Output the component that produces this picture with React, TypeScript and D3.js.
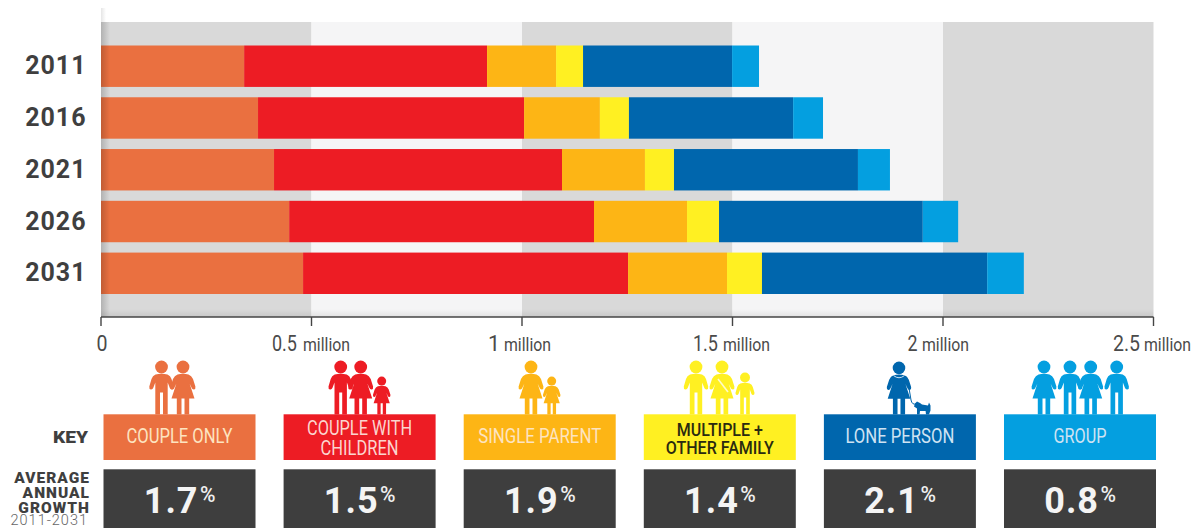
import React from "react";
import * as d3 from "d3";

const years = ["2011", "2016", "2021", "2026", "2031"];
const householdTypes = ["couple", "coupleKids", "single", "multiple", "lone", "group"];
const coupleOnly = [0.34, 0.373, 0.411, 0.447, 0.48];
const coupleWithChildren = [0.577, 0.632, 0.684, 0.724, 0.772];
const singleParent = [0.164, 0.18, 0.197, 0.221, 0.235];
const multipleOther = [0.064, 0.069, 0.069, 0.076, 0.083];
const lonePerson = [0.354, 0.39, 0.437, 0.484, 0.535];
const groupHouseholds = [0.064, 0.071, 0.076, 0.084, 0.087];
const seriesValues = [coupleOnly, coupleWithChildren, singleParent, multipleOther, lonePerson, groupHouseholds];
const seriesColors = ["#ea7040", "#ed1c24", "#fdb515", "#fff022", "#0066ad", "#049fe0"];
const axisTicks = [0, 0.5, 1, 1.5, 2, 2.5];
const keyLines = [["COUPLE ONLY"], ["COUPLE WITH", "CHILDREN"], ["SINGLE PARENT"], ["MULTIPLE +", "OTHER FAMILY"], ["LONE PERSON"], ["GROUP"]];
const growthRates = ["1.7", "1.5", "1.9", "1.4", "2.1", "0.8"];

// Horizontal metrics for the condensed-looking labels
const keyLineWidths = [[106], [105, 78], [123], [86, 108], [109], [53]];
const tickNumberLeft = [96.5, 272, 488, 693, 907.5, 1113];
const tickNumberWidth = [11, 25, 12, 25, 10, 27];
const tickUnitLeft = [0, 303, 504, 723, 922, 1144];

const x = d3.scaleLinear().domain([0, 2.5]).range([101, 1153.5]);
const y = d3.scaleBand().domain(years).range([45.5, 294]).paddingInner(0.2).paddingOuter(0);
const keyX = d3.scaleBand().domain(householdTypes).range([103.5, 1156]).paddingInner(0.156).paddingOuter(0);

const stack = d3.stack<number>()
  .keys(householdTypes.map((_, i) => String(i)))
  .value((yearIndex, key) => seriesValues[+key][yearIndex]);
const stacked = stack(years.map((_, i) => i));

const GROUND = 414.5;

// Figure glyphs share a unit box: feet at y=0, head towards negative y, centred on x=0.
function Man({ cx, h, fill }: { cx: number; h: number; fill: string }) {
  const s = h / 54;
  return (
    <g transform={`translate(${cx},${GROUND}) scale(${s})`} fill={fill}>
      <circle cx={0} cy={-47.5} r={6.4} />
      <path d="M-6,-40 Q0,-41.5 6,-40 Q9,-39 10,-35.5 L12.2,-28 Q12.6,-25.4 10.6,-25 Q8.9,-24.8 8.2,-26.8 L6.2,-32 L6.2,0 L1.5,0 L1.5,-22 L-1.5,-22 L-1.5,0 L-6.2,0 L-6.2,-32 L-8.2,-26.8 Q-8.9,-24.8 -10.6,-25 Q-12.6,-25.4 -12.2,-28 L-10,-35.5 Q-9,-39 -6,-40 Z" />
    </g>
  );
}

function Woman({ cx, h, fill }: { cx: number; h: number; fill: string }) {
  const s = h / 54;
  return (
    <g transform={`translate(${cx},${GROUND}) scale(${s})`} fill={fill}>
      <circle cx={0} cy={-47.5} r={6.4} />
      <path d="M-5.5,-40 Q0,-41.5 5.5,-40 Q8.5,-39 10,-35.5 L12.4,-28 Q12.8,-25.4 11,-25 Q9.3,-24.8 8.6,-26.8 L6.6,-31 L11.5,-16 L6.2,-16 L6.2,0 L1.5,0 L1.5,-16 L-1.5,-16 L-1.5,0 L-6.2,0 L-6.2,-16 L-11.5,-16 L-6.6,-31 L-8.6,-26.8 Q-9.3,-24.8 -11,-25 Q-12.8,-25.4 -12.4,-28 L-10,-35.5 Q-8.5,-39 -5.5,-40 Z" />
    </g>
  );
}

function Dog({ cx, fill }: { cx: number; fill: string }) {
  return (
    <path
      transform={`translate(${cx},${GROUND})`}
      fill={fill}
      d="M-7,-11 L-5,-13 L-2,-11.5 L0,-10 L6,-9 L7,-12 L8.5,-9 L8.5,-4 L7,0 L4,0 L3.6,-3.5 L-2,-3.5 L-2.4,0 L-5,0 L-5,-6 L-8,-8 Z"
    />
  );
}

const figures: { kind: "m" | "w"; cx: number; h: number; color: number }[] = [
  { kind: "m", cx: 161.5, h: 54, color: 0 },
  { kind: "w", cx: 183, h: 54, color: 0 },
  { kind: "m", cx: 340.7, h: 54, color: 1 },
  { kind: "w", cx: 360.7, h: 54, color: 1 },
  { kind: "w", cx: 381.7, h: 38, color: 1 },
  { kind: "w", cx: 531, h: 54, color: 2 },
  { kind: "w", cx: 551.7, h: 38, color: 2 },
  { kind: "m", cx: 696, h: 54, color: 3 },
  { kind: "w", cx: 722, h: 54, color: 3 },
  { kind: "m", cx: 745, h: 42, color: 3 },
  { kind: "w", cx: 899, h: 53, color: 4 },
  { kind: "w", cx: 1044, h: 54, color: 5 },
  { kind: "m", cx: 1070, h: 54, color: 5 },
  { kind: "w", cx: 1090.7, h: 54, color: 5 },
  { kind: "m", cx: 1116.7, h: 54, color: 5 },
];

const face = "Roboto, sans-serif";

export default function App() {
  const bands = axisTicks.slice(0, -1);
  return (
    <svg
      width={1200}
      height={528}
      viewBox="0 0 1200 528"
      style={{ position: "absolute", left: 0, top: 0, background: "#fff" }}
    >
      <defs>
        <linearGradient id="edgeShade" x1="0" x2="1" y1="0" y2="0">
          <stop offset="0" stopColor="#000" stopOpacity={0.18} />
          <stop offset="1" stopColor="#000" stopOpacity={0} />
        </linearGradient>
        <linearGradient id="floorShade" x1="0" x2="0" y1="0" y2="1">
          <stop offset="0" stopColor="#000" stopOpacity={0} />
          <stop offset="1" stopColor="#000" stopOpacity={0.08} />
        </linearGradient>
        <linearGradient id="stubShade" x1="0" x2="1" y1="0" y2="0">
          <stop offset="0" stopColor="#000" stopOpacity={0.1} />
          <stop offset="1" stopColor="#000" stopOpacity={0} />
        </linearGradient>
      </defs>

      {/* Alternating half-million bands behind the bars */}
      {bands.map((t, i) => (
        <rect
          key={t}
          x={x(t)}
          y={22}
          width={x(axisTicks[i + 1]) - x(t)}
          height={295}
          fill={i % 2 === 0 ? "#d9d9d9" : "#f5f5f6"}
        />
      ))}
      <rect x={x(0)} y={8} width={5} height={14} fill="url(#stubShade)" />
      <rect x={x(0)} y={309} width={x(2.5) - x(0)} height={8} fill="url(#floorShade)" />

      {/* Stacked household bars */}
      {stacked.map((layer, i) => (
        <g key={layer.key} fill={seriesColors[i]}>
          {layer.map((d, j) => (
            <rect
              key={years[j]}
              x={x(d[0])}
              y={y(years[j])}
              width={x(d[1]) - x(d[0])}
              height={y.bandwidth()}
            />
          ))}
        </g>
      ))}
      <rect x={x(0)} y={22} width={9} height={295} fill="url(#edgeShade)" />

      {years.map((yr) => (
        <text
          key={yr}
          x={86.5}
          y={y(yr)! + y.bandwidth() / 2 + 8}
          textAnchor="end"
          fontFamily={face}
          fontWeight={700}
          fontSize={25}
          letterSpacing={1}
          fill="#3f3f3f"
        >
          {yr}
        </text>
      ))}

      {/* Axis */}
      <line x1={x(0)} x2={x(2.5)} y1={317} y2={317} stroke="#444" strokeWidth={1.6} />
      {axisTicks.map((t) => (
        <line key={t} x1={x(t)} x2={x(t)} y1={317} y2={326} stroke="#444" strokeWidth={1.4} />
      ))}
      {axisTicks.map((t, i) => (
        <g key={t} fontFamily={face} fill="#4a4a4a">
          <text
            x={tickNumberLeft[i]}
            y={351}
            fontSize={22}
            textLength={tickNumberWidth[i]}
            lengthAdjust="spacingAndGlyphs"
          >
            {t}
          </text>
          {t > 0 && (
            <text x={tickUnitLeft[i]} y={351} fontSize={17.5} textLength={47} lengthAdjust="spacingAndGlyphs">
              million
            </text>
          )}
        </g>
      ))}

      {/* Household figures standing on the key boxes */}
      {figures.map((f, i) =>
        f.kind === "m" ? (
          <Man key={i} cx={f.cx} h={f.h} fill={seriesColors[f.color]} />
        ) : (
          <Woman key={i} cx={f.cx} h={f.h} fill={seriesColors[f.color]} />
        ),
      )}
      <path d="M718,379 L728,392" stroke="#fff" strokeWidth={1.6} fill="none" opacity={0.75} />
      <path d="M893.5,375.5 Q899,380 904.5,375.5" stroke="#cfe3f3" strokeWidth={1} fill="none" />
      <Dog cx={922} fill={seriesColors[4]} />
      <path d="M909,388 L911,400 Q912,405 916,404" stroke={seriesColors[4]} strokeWidth={1} fill="none" />

      {/* Key boxes and growth tiles */}
      <text
        x={53}
        y={443}
        fontFamily={face}
        fontWeight={900}
        fontSize={17}
        fill="#3f3f3f"
        textLength={35}
        lengthAdjust="spacingAndGlyphs"
      >
        KEY
      </text>
      {householdTypes.map((k, i) => {
        const bx = keyX(k)!;
        const w = keyX.bandwidth();
        const cx = bx + w / 2;
        const lines = keyLines[i];
        const ink = i === 3 ? "#2a2a10" : i === 0 || i === 2 ? "#fde4c0" : i === 1 ? "#fbd5cf" : "#cfe3f3";
        return (
          <g key={k}>
            <rect x={bx} y={414.3} width={w} height={45.7} fill={seriesColors[i]} />
            <text
              textAnchor="middle"
              fontFamily={face}
              fontWeight={i === 3 ? 500 : 400}
              fontSize={i === 3 ? 18.5 : 19.5}
              fill={ink}
            >
              {lines.map((ln, li) => (
                <tspan
                  key={ln}
                  x={cx}
                  y={lines.length === 1 ? 443 : (i === 3 ? 436 : 435) + li * (i === 3 ? 17.5 : 20)}
                  textLength={keyLineWidths[i][li]}
                  lengthAdjust="spacingAndGlyphs"
                >
                  {ln}
                </tspan>
              ))}
            </text>
            <rect x={bx} y={469.3} width={w} height={58.7} fill="#3e3e3e" />
            <text
              x={cx + 19}
              y={513}
              textAnchor="end"
              fontFamily={face}
              fontWeight={700}
              fontSize={36}
              letterSpacing={1}
              fill="#f4f4f4"
            >
              {growthRates[i]}
            </text>
            <text
              x={cx + 20.5}
              y={501.5}
              fontFamily={face}
              fontWeight={500}
              fontSize={22}
              fill="#f0f0f0"
              textLength={15.5}
              lengthAdjust="spacingAndGlyphs"
            >
              %
            </text>
          </g>
        );
      })}

      {/* Growth caption, set tight as one block */}
      <text fontFamily={face} fontSize={15.5} textAnchor="end" fill="#3f3f3f">
        <tspan x={90} y={483} fontWeight={900} letterSpacing={1}>AVERAGE</tspan>
        <tspan x={90} y={498} fontWeight={900} letterSpacing={1}>ANNUAL</tspan>
        <tspan x={90} y={512.5} fontWeight={900} letterSpacing={1}>GROWTH</tspan>
        <tspan x={88} y={525} fontWeight={300} fontSize={14.5} letterSpacing={1} fill="#666">2011-2031</tspan>
      </text>
    </svg>
  );
}
